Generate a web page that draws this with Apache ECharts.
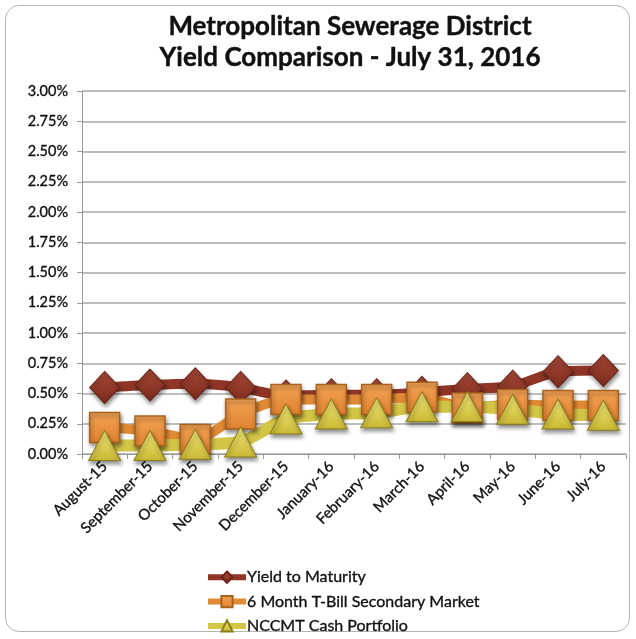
<!DOCTYPE html>
<html>
<head>
<meta charset="utf-8">
<script src="https://cdn.jsdelivr.net/npm/echarts@6/dist/echarts.min.js"></script>
<style>
  html, body { margin: 0; padding: 0; background: #fff; }
  #frame {
    position: absolute; left: 5px; top: 5px; width: 625px; height: 627px;
    border: 1px solid #b4b4b4; border-radius: 14px; box-sizing: border-box;
  }
  #chart { position: absolute; left: 0; top: 0; width: 636px; height: 639px; }
</style>
</head>
<body>
<div id="frame"></div>
<div id="chart"></div>
<script>
// months along the x axis
const months = ['August-15', 'September-15', 'October-15', 'November-15', 'December-15', 'January-16',
  'February-16', 'March-16', 'April-16', 'May-16', 'June-16', 'July-16']
// yields in percent
const yieldToMaturity = [0.55, 0.57, 0.58, 0.55, 0.48, 0.49, 0.49, 0.51, 0.54, 0.56, 0.68, 0.69]
const tBill6Month = [0.22, 0.19, 0.12, 0.33, 0.45, 0.45, 0.45, 0.47, 0.38, 0.41, 0.40, 0.40]
const nccmtCash = [0.07, 0.07, 0.08, 0.10, 0.29, 0.33, 0.34, 0.39, 0.39, 0.37, 0.33, 0.32]

const font = 'Lato'
const ink = '#111'

//渐变填充，模拟立体的标记
const grad = (top, bottom) => new echarts.graphic.LinearGradient(0, 0, 0, 1, [
  { offset: 0, color: top },
  { offset: 1, color: bottom }
])

const markerShadow = {
  shadowBlur: 4,
  shadowColor: 'rgba(0,0,0,0.45)',
  shadowOffsetX: 1,
  shadowOffsetY: 3
}

// 加一点描边让字更粗一些
const labelText = size => ({
  fontFamily: font,
  fontSize: size,
  color: ink,
  textBorderColor: ink,
  textBorderWidth: 0.35
})

const chart = echarts.init(document.getElementById('chart'))
const option = {
  animation: false,
  title: {
    text: 'Metropolitan Sewerage District\nYield Comparison - July 31, 2016',
    left: 345,
    textAlign: 'center',
    top: 6,
    textStyle: Object.assign(labelText(26), { lineHeight: 31, textBorderWidth: 0.4 })
  },
  legend: {
    orient: 'vertical',
    left: 205,
    top: 569,
    padding: 0,
    itemGap: 8,
    itemWidth: 38,
    itemHeight: 14,
    lineStyle: { width: 6 },
    textStyle: Object.assign(labelText(16), { padding: [0, 0, 0, -4] }),
    data: ['Yield to Maturity', '6 Month T-Bill Secondary Market', 'NCCMT Cash Portfolio']
  },
  grid: {
    left: 82,
    right: 10,
    top: 91,
    bottom: 185
  },
  xAxis: {
    type: 'category',
    data: months,
    boundaryGap: true,
    axisLine: { lineStyle: { color: '#999', width: 1 } },
    axisTick: { show: true, interval: 0, length: 5, lineStyle: { color: '#999' } },
    axisLabel: Object.assign({ interval: 0, rotate: 45, margin: 10 }, labelText(15))
  },
  yAxis: {
    type: 'value',
    min: 0,
    max: 3,
    interval: 0.25,
    axisLine: { show: true, lineStyle: { color: '#999', width: 1 } },
    axisTick: { show: true, length: 5, lineStyle: { color: '#999' } },
    splitLine: { lineStyle: { color: '#a8a8a8', width: 1.5 } },
    axisLabel: Object.assign({ formatter: v => v.toFixed(2) + '%', margin: 14 }, labelText(14.5))
  },
  series: [
    {
      name: 'Yield to Maturity',
      type: 'line',
      data: yieldToMaturity,
      symbol: 'diamond',
      symbolSize: [30, 32],
      smooth: 0.25,
      lineStyle: { color: '#8e3526', width: 10 },
      itemStyle: Object.assign({
        color: grad('#a94a38', '#7a2a1c'),
        borderColor: '#6a2418',
        borderWidth: 1
      }, markerShadow)
    },
    {
      name: '6 Month T-Bill Secondary Market',
      type: 'line',
      data: tBill6Month,
      symbol: 'rect',
      symbolSize: [30, 30],
      smooth: 0.25,
      lineStyle: { color: '#e08a35', width: 10 },
      itemStyle: Object.assign({
        color: grad('#f4a456', '#e0822e'),
        borderColor: '#a8611f',
        borderWidth: 1.5
      }, markerShadow)
    },
    {
      name: 'NCCMT Cash Portfolio',
      type: 'line',
      data: nccmtCash,
      symbol: 'triangle',
      symbolSize: [32, 30],
      smooth: 0.25,
      lineStyle: { color: '#d3c545', width: 12 },
      itemStyle: Object.assign({
        color: grad('#f2e87a', '#c9b833'),
        borderColor: '#8c7f1c',
        borderWidth: 1
      }, markerShadow)
    }
  ]
}
chart.setOption(option)
</script>
</body>
</html>
